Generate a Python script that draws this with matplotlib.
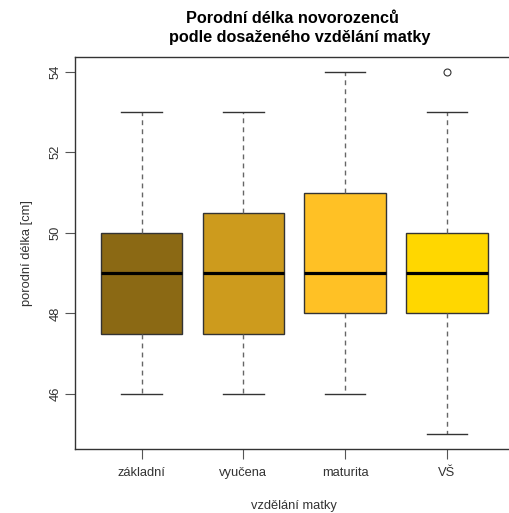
import matplotlib
matplotlib.use("Agg")
import matplotlib.pyplot as plt

categories = ["základní", "vyučena", "maturita", "VŠ"]
whislo = [46, 46, 46, 45]
q1 = [47.5, 47.5, 48, 48]
med = [49, 49, 49, 49]
q3 = [50, 50.5, 51, 50]
whishi = [53, 53, 54, 53]
fliers = [[], [], [], [54]]
colors = ["#8B6914", "#CD9B1D", "#FFC125", "#FFD700"]
yticks = [46, 48, 50, 52, 54]

plt.rcParams['font.family'] = ['Liberation Sans', 'DejaVu Sans']

fig = plt.figure(figsize=(5.10, 5.13), dpi=100)
ax = fig.add_axes([74.5/510, 64/513, (514-74.5)/510, (449-57)/513])

stats = []
for i in range(len(categories)):
    stats.append(dict(label=categories[i], whislo=whislo[i], q1=q1[i], med=med[i],
                      q3=q3[i], whishi=whishi[i], fliers=fliers[i]))

bp = ax.bxp(stats, positions=range(1, len(categories)+1), widths=0.8,
            patch_artist=True, showfliers=True,
            boxprops=dict(edgecolor="#333333", linewidth=1.0),
            medianprops=dict(color="black", linewidth=2.3, solid_capstyle="butt"),
            whiskerprops=dict(color="#666666", linestyle=(0, (3.5, 3)), linewidth=1.0),
            capprops=dict(color="#333333", linewidth=1.0),
            flierprops=dict(marker="o", markerfacecolor="none", markeredgecolor="#333333",
                            markersize=5, markeredgewidth=0.8))
for b, c in zip(bp['boxes'], colors):
    b.set_facecolor(c)
for c in bp['caps']:
    x = c.get_xdata()
    m = (x[0] + x[1]) / 2
    c.set_xdata([m - 0.2, m + 0.2])

ax.set_xlim(0.34, 4.66)
ax.set_ylim(44.64, 54.36)
ax.set_yticks(yticks)
ax.set_yticklabels([str(v) for v in yticks], rotation=90, va="center")
ax.set_xticks(range(1, len(categories)+1))
ax.set_xticklabels(categories)
ax.tick_params(axis="both", length=7, width=0.8, color="#555555", labelsize=9.3,
               labelcolor="#333333")
ax.tick_params(axis="x", pad=6)
ax.tick_params(axis="y", pad=2.5)
for s in ax.spines.values():
    s.set_color("#333333")
    s.set_linewidth(1.0)

ax.set_xlabel("vzdělání matky", fontsize=9.3, color="#333333", labelpad=15)
ax.set_ylabel("porodní délka [cm]", fontsize=9.3, color="#333333", labelpad=12)
fig.text(292/510, 1 - 23/513, "Porodní délka novorozenců",
         ha="center", va="baseline", fontsize=11.7, fontweight="bold")
fig.text(299.5/510, 1 - 42/513, "podle dosaženého vzdělání matky",
         ha="center", va="baseline", fontsize=11.7, fontweight="bold")

fig.savefig("out.png", dpi=100)
